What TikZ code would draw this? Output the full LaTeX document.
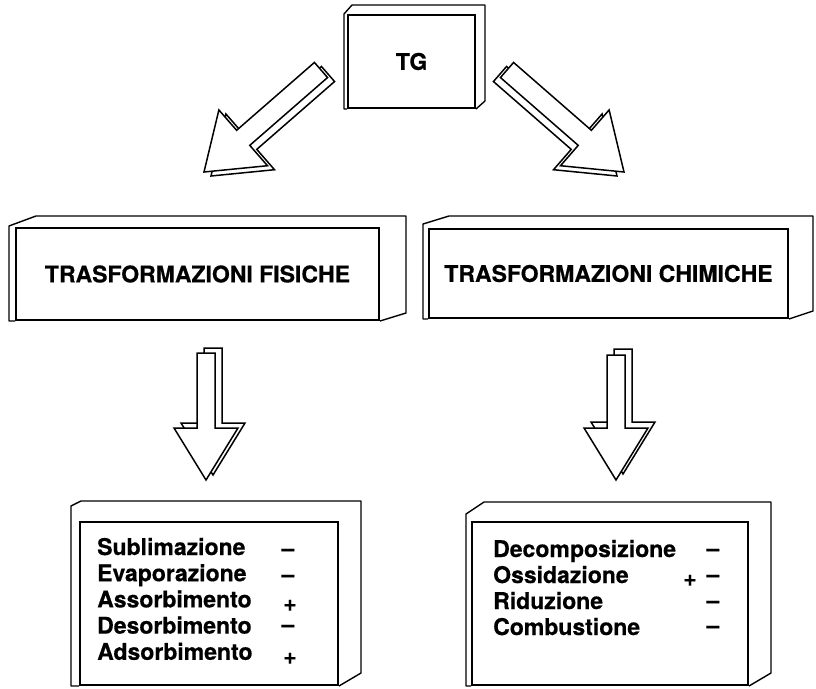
\documentclass[tikz,border=0pt]{standalone}
\usepackage{fontspec}
\setmainfont{TeX Gyre Heros}[BoldFeatures={FakeBold=0.5}]
\usetikzlibrary{calc,positioning}

\tikzset{
  face/.style={draw,line width=2pt,inner sep=0pt,font=\bfseries\fontsize{23}{26}\selectfont},
  side/.style={draw,line width=1.4pt,line join=round},
  fat/.style={draw,line width=1.5pt,fill=white,line join=miter},
  item/.style={anchor=base west,inner sep=0pt,font=\bfseries\fontsize{23}{26}\selectfont},
  sign/.style={anchor=base,inner sep=0pt,font=\bfseries\fontsize{23}{26}\selectfont}
}

% node, strip, rise, back left, depth x, depth y, right drop
\newcommand{\slab}[7]{%
  \draw[side] (#1.south east) -- ([xshift=#5,yshift=#7]#1.south east)
    -- ([xshift=#5,yshift=#6]#1.north east) -- ([xshift=#4,yshift=#6]#1.north west)
    -- ([xshift=-#2,yshift=#3]#1.north west) -- ([xshift=-#2]#1.south west) -- (#1.south west);
}

% tail, tip, half shaft, half head, head length
\newcommand{\fatarrow}[5]{%
  \coordinate (fa-t) at #1;
  \coordinate (fa-p) at #2;
  \coordinate (fa-h) at ($(fa-p)!#5!(fa-t)$);
  \draw[fat] ($(fa-t)!#3!90:(fa-p)$) -- ($(fa-h)!#3!90:(fa-p)$) -- ($(fa-h)!#4!90:(fa-p)$)
    -- (fa-p) -- ($(fa-h)!#4!-90:(fa-p)$) -- ($(fa-h)!#3!-90:(fa-p)$) -- ($(fa-t)!#3!-90:(fa-p)$) -- cycle;
}

\begin{document}
\begin{tikzpicture}[x=1pt,y=-1pt]
\useasboundingbox (0,0) rectangle (816,688);

\node[face,minimum width=127pt,minimum height=93pt] (tg) at (411.5,61.5) {TG};
\node[face,minimum width=363pt,minimum height=92pt] (fis) at (197.5,274) {TRASFORMAZIONI FISICHE};
\node[face,minimum width=359pt,minimum height=89pt] (chim) at (608.5,273.5) {TRASFORMAZIONI CHIMICHE};
\node[face,minimum width=258pt,minimum height=163pt] (fislist) at (209,603.5) {};
\node[face,minimum width=276pt,minimum height=163pt] (chimlist) at (610,603.5) {};

\slab{tg}{3pt}{0pt}{5pt}{9pt}{9pt}{8pt}
\slab{fis}{6pt}{1pt}{21pt}{26pt}{11pt}{8pt}
\slab{chim}{5pt}{4pt}{21pt}{24pt}{12pt}{8pt}
\slab{fislist}{8pt}{15pt}{2pt}{22pt}{20pt}{13pt}
\slab{chimlist}{5pt}{7pt}{13pt}{22pt}{19pt}{13pt}

\coordinate (tofis-s) at (321,70);
\coordinate (tofis-e) at (204,172);
\coordinate (tochim-s) at (507,70);
\coordinate (tochim-e) at (624,172);
\coordinate (fisdown-s) at (206,353);
\coordinate (fisdown-e) at (206,480);
\coordinate (chimdown-s) at (616,355);
\coordinate (chimdown-e) at (616,480);

\fatarrow{($(tofis-s)+(7,4)$)}{($(tofis-e)+(7,4)$)}{10pt}{37pt}{52pt}
\fatarrow{(tofis-s)}{(tofis-e)}{10pt}{37pt}{52pt}
\fatarrow{($(tochim-s)+(-7,4)$)}{($(tochim-e)+(-7,4)$)}{10pt}{37pt}{52pt}
\fatarrow{(tochim-s)}{(tochim-e)}{10pt}{37pt}{52pt}
\fatarrow{($(fisdown-s)+(7,-5)$)}{($(fisdown-e)+(7,-5)$)}{9pt}{32pt}{52pt}
\fatarrow{(fisdown-s)}{(fisdown-e)}{9pt}{32pt}{52pt}
\fatarrow{($(chimdown-s)+(7,-6)$)}{($(chimdown-e)+(7,-6)$)}{9pt}{32pt}{52pt}
\fatarrow{(chimdown-s)}{(chimdown-e)}{9pt}{32pt}{52pt}

\foreach \w [count=\i] in {Sublimazione,Evaporazione,Assorbimento,Desorbimento,Adsorbimento}
  \node[item] (fisl\i) at (97,{528.8+26.2*\i}) {\w};
\foreach \w [count=\i] in {Decomposizione,Ossidazione,Riduzione,Combustione}
  \node[item] (chiml\i) at (493,{531+26*\i}) {\w};

\foreach \s/\x/\y [count=\i] in {–/288/556,–/288/582,+/290/611,–/288/632,+/290/664}
  \node[sign] (fiss\i) at (\x,\y) {\s};
\foreach \s/\x/\y [count=\i] in {–/713/556,+/690/586,–/713/582,–/713/608,–/713/633}
  \node[sign] (chims\i) at (\x,\y) {\s};
\end{tikzpicture}
\end{document}
